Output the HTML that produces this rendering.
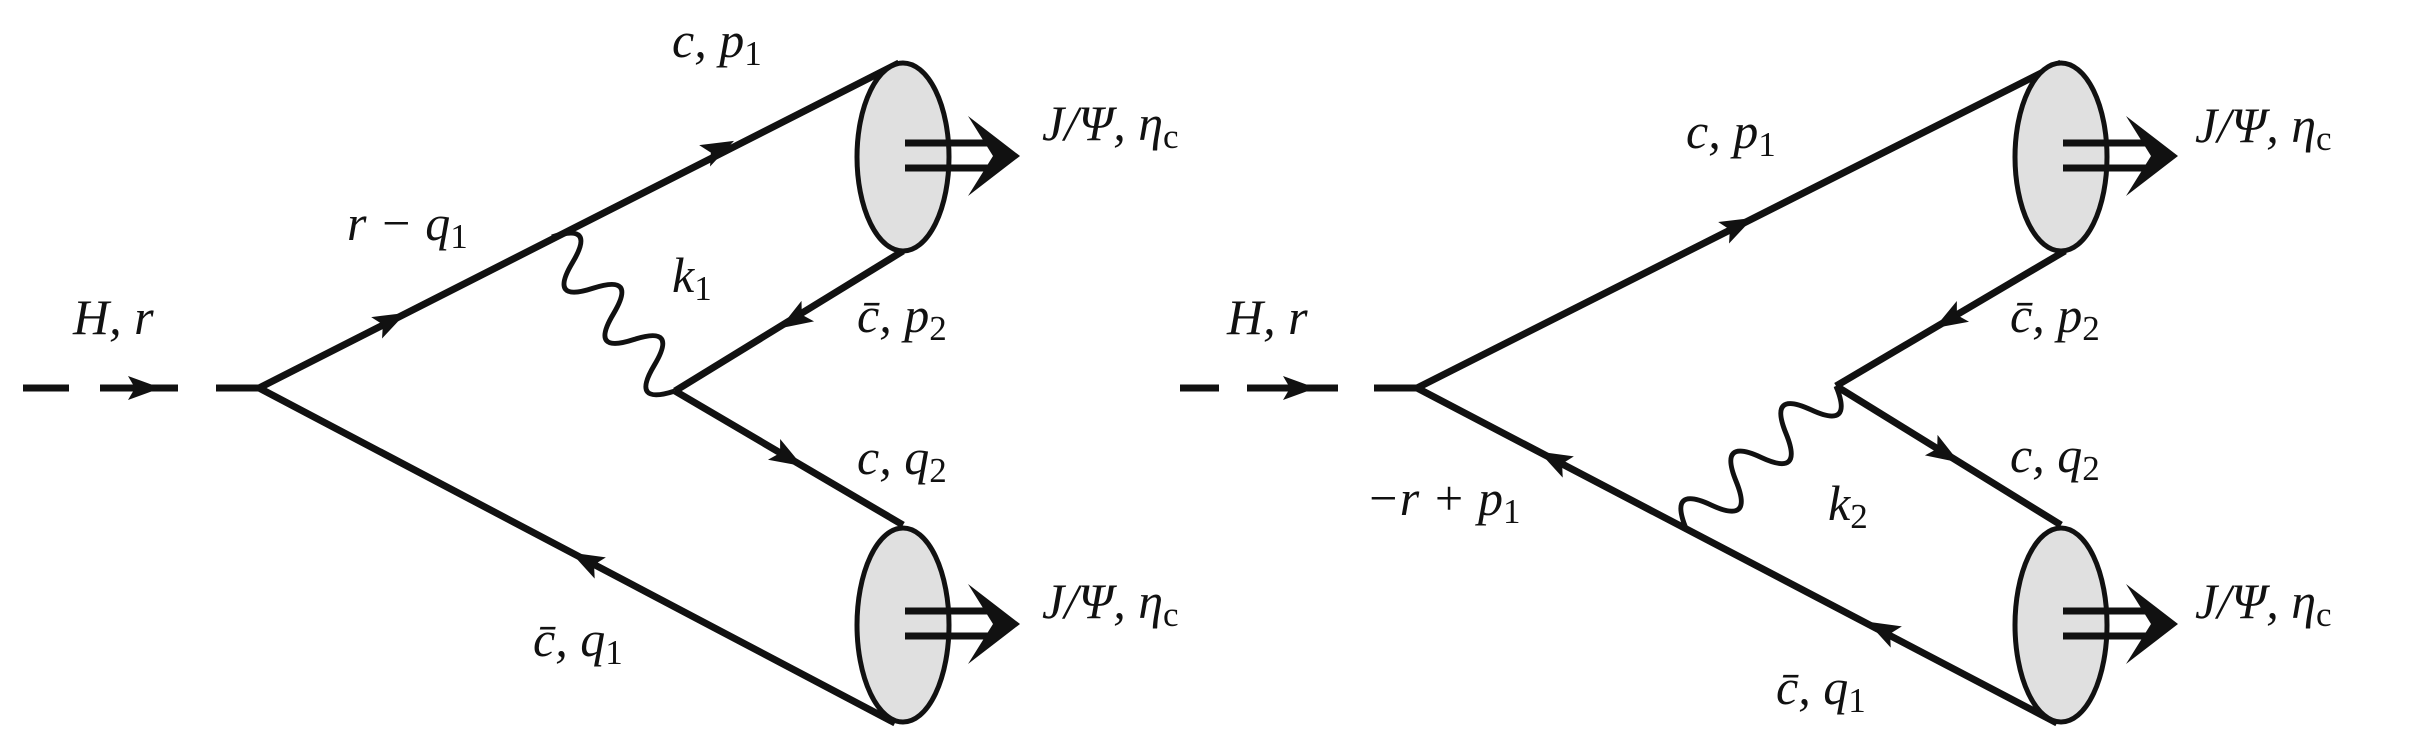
<!DOCTYPE html>
<html><head><meta charset="utf-8"><style>
html,body{margin:0;padding:0;background:#fff;}
svg{display:block;}
text{font-family:"Liberation Serif","DejaVu Serif",serif;font-style:italic;font-size:50px;fill:#111;}
.s{font-style:normal;font-size:35px;}
</style></head><body>
<svg width="2419" height="729" viewBox="0 0 2419 729" xmlns="http://www.w3.org/2000/svg" font-family="Liberation Serif, DejaVu Serif, serif">
<defs>
<path id="ah" d="M18,0 L-15,-12 L-8,0 L-15,12 Z" fill="#111"/>
<g id="dbl">
<line x1="0" y1="-13" x2="88" y2="-13" stroke="#111" stroke-width="7"/>
<line x1="0" y1="12" x2="88" y2="12" stroke="#111" stroke-width="7"/>
<path d="M63,-40 L115,0 L63,40 L88,0 Z" fill="#111"/>
</g>
</defs>
<g stroke="#111" stroke-width="7" fill="none" stroke-linecap="butt">
<line x1="23" y1="388" x2="69" y2="388"/>
<line x1="100" y1="388" x2="178" y2="388"/>
<line x1="216" y1="388" x2="259" y2="388"/>
<line x1="259" y1="388" x2="899" y2="63"/>
<line x1="259" y1="388" x2="895" y2="723"/>
<line x1="903" y1="251" x2="675" y2="391"/>
<line x1="675" y1="391" x2="903" y2="525"/>
<path transform="translate(552,237) rotate(51.4)" stroke-width="5" d="M0,0 Q16.4,-44 32.8,0 T65.6,0 T98.4,0 T131.2,0 T164,0 T197,0"/>
<line x1="1180" y1="388" x2="1219" y2="388"/>
<line x1="1247" y1="388" x2="1338" y2="388"/>
<line x1="1374" y1="388" x2="1417" y2="388"/>
<line x1="1417" y1="388" x2="2061" y2="63"/>
<line x1="1417" y1="388" x2="2057" y2="723"/>
<line x1="2065" y1="251" x2="1836" y2="386"/>
<line x1="1836" y1="386" x2="2061" y2="525"/>
<path transform="translate(1836,386) rotate(136.4)" stroke-width="5" d="M0,0 Q17.25,-44 34.5,0 T69,0 T103.5,0 T138,0 T172.5,0 T207,0"/>
</g>
<g fill="#e0e0e0" stroke="#111" stroke-width="5">
<ellipse cx="903" cy="157" rx="46" ry="94"/>
<ellipse cx="903" cy="625" rx="46" ry="97"/>
<ellipse cx="2061" cy="157" rx="46" ry="94"/>
<ellipse cx="2061" cy="625" rx="46" ry="97"/>
</g>
<use href="#dbl" x="905" y="156"/>
<use href="#dbl" x="905" y="624"/>
<use href="#dbl" x="2063" y="156"/>
<use href="#dbl" x="2063" y="624"/>
<use href="#ah" transform="translate(143,388)"/>
<use href="#ah" transform="translate(390,321) rotate(-26.9)"/>
<use href="#ah" transform="translate(718,149) rotate(-26.9)"/>
<use href="#ah" transform="translate(795,319) rotate(148.4)"/>
<use href="#ah" transform="translate(787,457) rotate(30.4)"/>
<use href="#ah" transform="translate(587,561) rotate(207.8)"/>
<use href="#ah" transform="translate(1298,388)"/>
<use href="#ah" transform="translate(1737,226) rotate(-26.8)"/>
<use href="#ah" transform="translate(1950,319) rotate(149.5)"/>
<use href="#ah" transform="translate(1944,453) rotate(31.7)"/>
<use href="#ah" transform="translate(1555,460) rotate(207.6)"/>
<use href="#ah" transform="translate(1883,630) rotate(207.6)"/>
<text x="672" y="57">c, p<tspan class="s" dy="8">1</tspan></text>
<text x="1042" y="140">J/Ψ, η<tspan class="s" dy="8">c</tspan></text>
<text x="347" y="240">r − q<tspan class="s" dy="8">1</tspan></text>
<text x="672" y="292">k<tspan class="s" dy="8">1</tspan></text>
<text x="73" y="334">H, r</text>
<text x="857" y="332">c̄, p<tspan class="s" dy="8">2</tspan></text>
<text x="857" y="474">c, q<tspan class="s" dy="8">2</tspan></text>
<text x="533" y="656">c̄, q<tspan class="s" dy="8">1</tspan></text>
<text x="1042" y="618">J/Ψ, η<tspan class="s" dy="8">c</tspan></text>
<text x="1686" y="148">c, p<tspan class="s" dy="8">1</tspan></text>
<text x="2195" y="142">J/Ψ, η<tspan class="s" dy="8">c</tspan></text>
<text x="1227" y="334">H, r</text>
<text x="2010" y="332">c̄, p<tspan class="s" dy="8">2</tspan></text>
<text x="1366" y="515">−r + p<tspan class="s" dy="8">1</tspan></text>
<text x="1828" y="520">k<tspan class="s" dy="8">2</tspan></text>
<text x="2010" y="472">c, q<tspan class="s" dy="8">2</tspan></text>
<text x="1776" y="704">c̄, q<tspan class="s" dy="8">1</tspan></text>
<text x="2195" y="618">J/Ψ, η<tspan class="s" dy="8">c</tspan></text>
</svg>
</body></html>
